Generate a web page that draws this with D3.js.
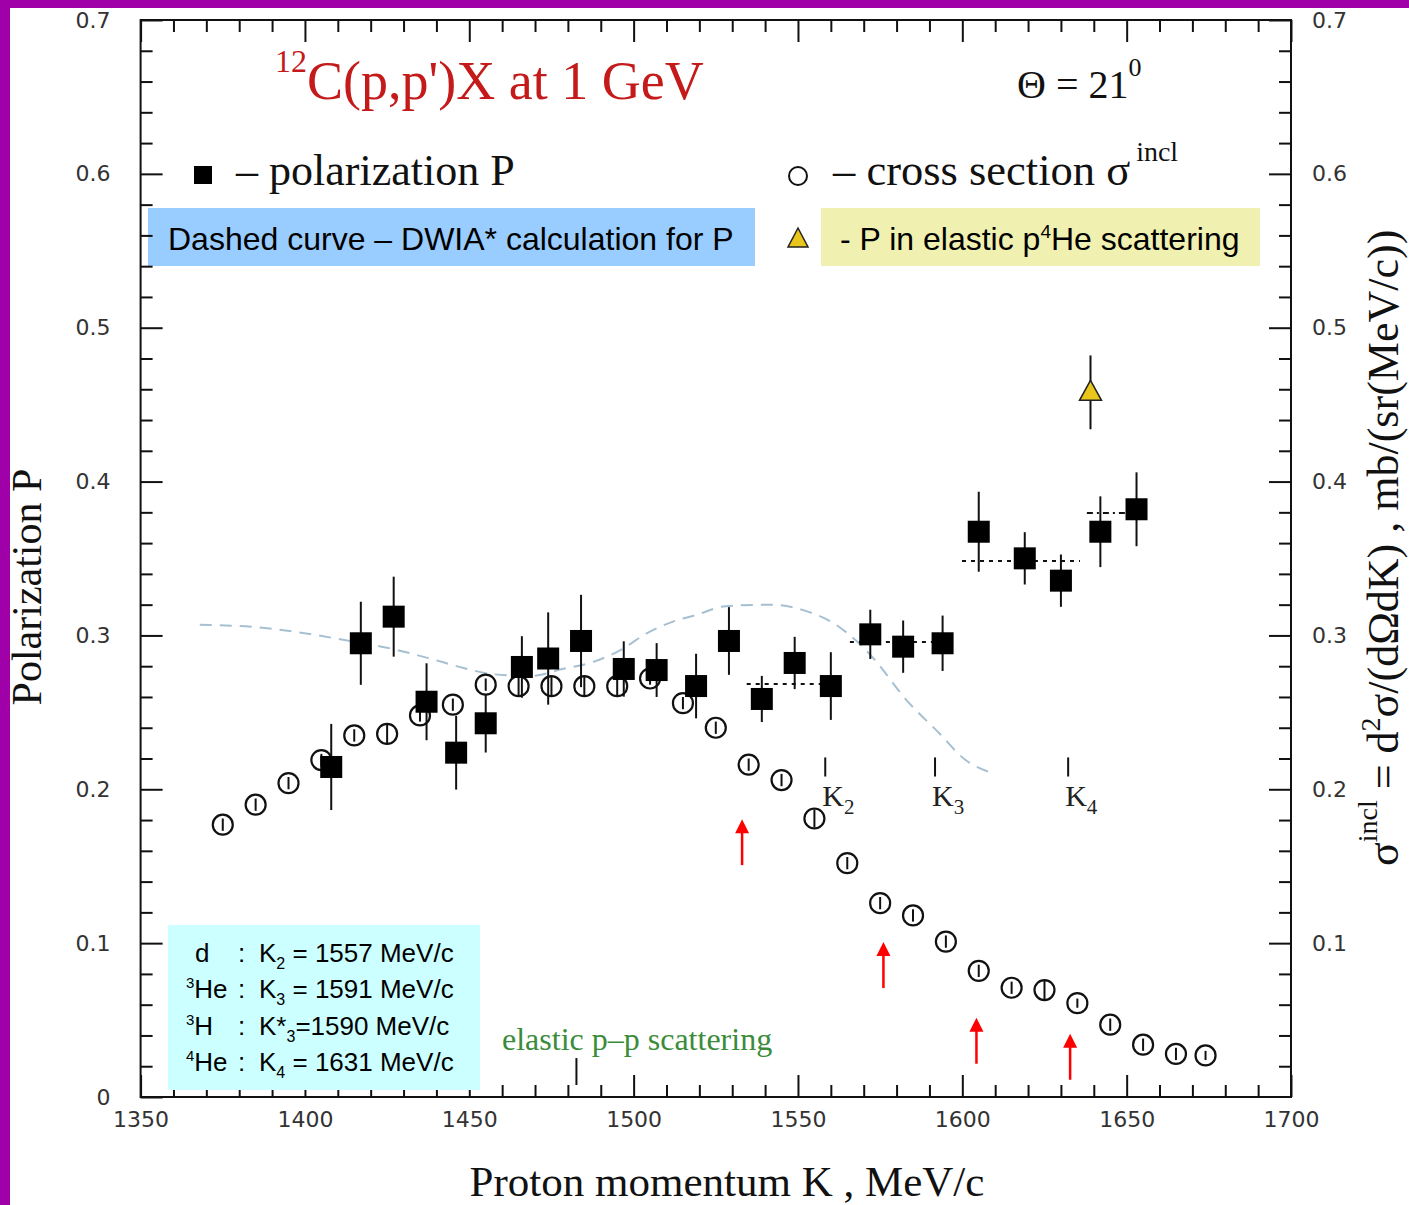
<!DOCTYPE html>
<html>
<head>
<meta charset="utf-8">
<script src="https://cdn.jsdelivr.net/npm/d3@7"></script>
<style>
  html, body { margin: 0; padding: 0; background: #fff; }
  svg { display: block; }
</style>
</head>
<body>
<svg id="chart" width="1409" height="1205"></svg>
<script>
// polarization P (filled squares), K in MeV/c
const polK   = [1408, 1417, 1427, 1437, 1446, 1455, 1466, 1474, 1484, 1497, 1507, 1519, 1529, 1539, 1549, 1560, 1572, 1582, 1594, 1605, 1619, 1630, 1642, 1653];
const polP   = [0.2145, 0.2949, 0.3122, 0.2569, 0.2238, 0.2429, 0.2795, 0.2850, 0.2964, 0.2782, 0.2775, 0.2671, 0.2964, 0.2587, 0.2821, 0.2671, 0.3007, 0.2927, 0.2949, 0.3674, 0.3501, 0.3356, 0.3674, 0.3820];
const polErr = [0.028, 0.027, 0.026, 0.025, 0.024, 0.019, 0.020, 0.030, 0.030, 0.018, 0.0175, 0.021, 0.022, 0.015, 0.017, 0.022, 0.016, 0.017, 0.018, 0.026, 0.017, 0.017, 0.023, 0.024];

// inclusive cross section (open circles), right axis
const xsK   = [1375, 1385, 1395, 1405, 1415, 1425, 1435, 1445, 1455, 1465, 1475, 1485, 1495, 1505, 1515, 1525, 1535, 1545, 1555, 1565, 1575, 1585, 1595, 1605, 1615, 1625, 1635, 1645, 1655, 1665, 1674];
const xsVal = [0.177, 0.190, 0.204, 0.219, 0.235, 0.236, 0.248, 0.255, 0.268, 0.267, 0.267, 0.267, 0.267, 0.272, 0.256, 0.240, 0.216, 0.206, 0.181, 0.152, 0.126, 0.118, 0.101, 0.082, 0.071, 0.0695, 0.061, 0.047, 0.034, 0.028, 0.027];
const xsErr = [0.004, 0.004, 0.004, 0.004, 0.004, 0.006, 0.004, 0.004, 0.004, 0.006, 0.006, 0.006, 0.006, 0.004, 0.004, 0.004, 0.004, 0.004, 0.006, 0.004, 0.004, 0.004, 0.004, 0.004, 0.004, 0.006, 0.003, 0.004, 0.004, 0.004, 0.003];

// p-4He elastic point (triangle)
const heK = [1639];
const heP = [0.458];
const heErr = [0.024];

// DWIA curve (dashed)
const dwiaK = [1368, 1387, 1404, 1412, 1425, 1438, 1448, 1455, 1462, 1469, 1478, 1488, 1496, 1504, 1512, 1519, 1528, 1542, 1553, 1560, 1568, 1573, 1583, 1593, 1601, 1608];
const dwiaP = [0.307, 0.305, 0.300, 0.297, 0.292, 0.285, 0.279, 0.2755, 0.274, 0.2737, 0.278, 0.283, 0.2905, 0.3014, 0.309, 0.3133, 0.319, 0.320, 0.3155, 0.309, 0.296, 0.285, 0.258, 0.2364, 0.219, 0.2114];

// averaged levels (dotted segments): from, to, level
const avgFrom  = [1534.4, 1565.8, 1599.9, 1637.9];
const avgTo    = [1563.3, 1598.4, 1635.8, 1649.5];
const avgLevel = [0.2684, 0.2957, 0.3484, 0.3796];

// threshold markers K2, K3, K4
const kMarkK = [1558.3, 1591.7, 1632.2];
const kMarkSub = ['2', '3', '4'];

// red arrows
const arrowK   = [1533, 1576, 1604.3, 1632.8];
const arrowTip = [0.1806, 0.1007, 0.0515, 0.0411];

// elastic p-p marker
const ppK = 1482.6;

// ticks
const xMajor = d3.range(1350, 1701, 50);
const xMinor = d3.range(1360, 1700, 10).filter(v => v % 50 !== 0);
const yMajor = [0, 0.1, 0.2, 0.3, 0.4, 0.5, 0.6, 0.7];
const yLeftLabels = ['0', '0.1', '0.2', '0.3', '0.4', '0.5', '0.6', '0.7'];
const yMinor = d3.range(0.02, 0.7, 0.02).filter(v => Math.abs(v * 10 - Math.round(v * 10)) > 0.01);

const svg = d3.select('#chart');
const x = d3.scaleLinear().domain([1350, 1700]).range([140.6, 1291]);
const y = d3.scaleLinear().domain([0, 0.7]).range([1097, 20]);

// purple frame of the slide
svg.append('rect').attr('x', 0).attr('y', 0).attr('width', 1409).attr('height', 8).attr('fill', '#a000a8');
svg.append('rect').attr('x', 0).attr('y', 0).attr('width', 10).attr('height', 1205).attr('fill', '#a000a8');

// coloured note boxes (behind axes)
svg.append('rect').attr('x', 148).attr('y', 208).attr('width', 607).attr('height', 58).attr('fill', '#99ccff');
svg.append('rect').attr('x', 821).attr('y', 208).attr('width', 439).attr('height', 58).attr('fill', '#f0f0b0');

function styleAxis(g) {
  g.select('.domain').remove();
  g.selectAll('line').attr('stroke', '#111').attr('stroke-width', 2);
  g.selectAll('text').attr('font-family', 'DejaVu Sans').attr('font-size', 22).attr('fill', '#333');
}

// bottom
svg.append('g').attr('transform', `translate(0,${y(0)})`)
  .call(d3.axisBottom(x).tickValues(xMajor).tickSize(-22).tickPadding(14).tickFormat(d3.format('d')))
  .call(styleAxis);
svg.append('g').attr('transform', `translate(0,${y(0)})`)
  .call(d3.axisBottom(x).tickValues(xMinor).tickSize(-12).tickFormat(''))
  .call(styleAxis);
// top
svg.append('g').attr('transform', `translate(0,${y(0.7)})`)
  .call(d3.axisTop(x).tickValues(xMajor).tickSize(-22).tickFormat(''))
  .call(styleAxis);
svg.append('g').attr('transform', `translate(0,${y(0.7)})`)
  .call(d3.axisTop(x).tickValues(xMinor).tickSize(-12).tickFormat(''))
  .call(styleAxis);
// left
svg.append('g').attr('transform', `translate(${x(1350)},0)`)
  .call(d3.axisLeft(y).tickValues(yMajor).tickSize(-22).tickPadding(30).tickFormat((d, i) => yLeftLabels[i]))
  .call(styleAxis);
svg.append('g').attr('transform', `translate(${x(1350)},0)`)
  .call(d3.axisLeft(y).tickValues(yMinor).tickSize(-12).tickFormat(''))
  .call(styleAxis);
// right
svg.append('g').attr('transform', `translate(${x(1700)},0)`)
  .call(d3.axisRight(y).tickValues(yMajor.slice(1)).tickSize(-22).tickPadding(21).tickFormat((d, i) => yLeftLabels[i + 1]))
  .call(styleAxis);
svg.append('g').attr('transform', `translate(${x(1700)},0)`)
  .call(d3.axisRight(y).tickValues(yMinor).tickSize(-12).tickFormat(''))
  .call(styleAxis);

// plot frame
svg.append('rect')
  .attr('x', x(1350)).attr('y', y(0.7))
  .attr('width', x(1700) - x(1350)).attr('height', y(0) - y(0.7))
  .attr('fill', 'none').attr('stroke', '#111').attr('stroke-width', 2);

// cyan box sits over the bottom ticks
svg.append('rect').attr('x', 168).attr('y', 925).attr('width', 312).attr('height', 165).attr('fill', '#ccffff');

// DWIA dashed curve
const dwia = dwiaK.map((k, i) => [k, dwiaP[i]]);
svg.append('path')
  .datum(dwia)
  .attr('fill', 'none')
  .attr('stroke', '#a6c0d2')
  .attr('stroke-width', 2)
  .attr('stroke-dasharray', '12,8')
  .attr('d', d3.line().x(d => x(d[0])).y(d => y(d[1])).curve(d3.curveMonotoneX));

// dotted average levels
avgLevel.forEach((v, i) => {
  svg.append('line')
    .attr('x1', x(avgFrom[i])).attr('x2', x(avgTo[i]))
    .attr('y1', y(v)).attr('y2', y(v))
    .attr('stroke', '#111').attr('stroke-width', 2)
    .attr('stroke-dasharray', i === 3 ? '6,4,2,4' : '4,5');
});

// cross section circles
const xs = xsK.map((k, i) => ({ k: k, v: xsVal[i], e: xsErr[i] }));
svg.selectAll('.xs')
  .data(xs)
  .enter()
  .append('circle')
  .attr('class', 'xs')
  .attr('cx', d => x(d.k))
  .attr('cy', d => y(d.v))
  .attr('r', 10)
  .attr('fill', '#fff')
  .attr('stroke', '#111')
  .attr('stroke-width', 2.2);
svg.selectAll('.xsErr')
  .data(xs)
  .enter()
  .append('line')
  .attr('class', 'xsErr')
  .attr('x1', d => x(d.k)).attr('x2', d => x(d.k))
  .attr('y1', d => y(d.v + d.e)).attr('y2', d => y(d.v - d.e))
  .attr('stroke', '#111').attr('stroke-width', 2);

// polarization squares with error bars
const pol = polK.map((k, i) => ({ k: k, p: polP[i], e: polErr[i] }));
svg.selectAll('.polErr')
  .data(pol)
  .enter()
  .append('line')
  .attr('class', 'polErr')
  .attr('x1', d => x(d.k)).attr('x2', d => x(d.k))
  .attr('y1', d => y(d.p + d.e)).attr('y2', d => y(d.p - d.e))
  .attr('stroke', '#111').attr('stroke-width', 2);
svg.selectAll('.pol')
  .data(pol)
  .enter()
  .append('rect')
  .attr('class', 'pol')
  .attr('x', d => x(d.k) - 11)
  .attr('y', d => y(d.p) - 11)
  .attr('width', 22)
  .attr('height', 22)
  .attr('fill', '#000');

// p-4He triangle
heK.forEach((k, i) => {
  const cx = x(k), cy = y(heP[i]);
  svg.append('line')
    .attr('x1', cx).attr('x2', cx)
    .attr('y1', y(heP[i] + heErr[i])).attr('y2', y(heP[i] - heErr[i]))
    .attr('stroke', '#111').attr('stroke-width', 2);
  svg.append('path')
    .attr('d', `M${cx},${cy - 12}L${cx + 11},${cy + 8}L${cx - 11},${cy + 8}Z`)
    .attr('fill', '#e8c61c').attr('stroke', '#222').attr('stroke-width', 1.5);
});

// K markers
kMarkK.forEach((k, i) => {
  svg.append('line')
    .attr('x1', x(k)).attr('x2', x(k))
    .attr('y1', y(0.2207)).attr('y2', y(0.2083))
    .attr('stroke', '#111').attr('stroke-width', 2);
  const t = svg.append('text')
    .attr('x', x(k) - 3).attr('y', 806)
    .attr('font-family', 'Liberation Serif').attr('font-size', 30).attr('fill', '#222');
  t.append('tspan').text('K');
  t.append('tspan').attr('dy', 8).attr('font-size', 21).text(kMarkSub[i]);
});

// red arrows
arrowK.forEach((k, i) => {
  const ax = x(k), ty = y(arrowTip[i]);
  svg.append('line')
    .attr('x1', ax).attr('x2', ax)
    .attr('y1', ty + 12).attr('y2', ty + 46)
    .attr('stroke', '#ff0000').attr('stroke-width', 2.5);
  svg.append('path')
    .attr('d', `M${ax},${ty}L${ax + 7},${ty + 14}L${ax - 7},${ty + 14}Z`)
    .attr('fill', '#ff0000');
});

// elastic p-p marker
svg.append('line')
  .attr('x1', x(ppK)).attr('x2', x(ppK))
  .attr('y1', y(0.0253)).attr('y2', y(0.0078))
  .attr('stroke', '#111').attr('stroke-width', 2);
svg.append('text')
  .attr('x', 502).attr('y', 1050)
  .attr('font-family', 'Liberation Serif').attr('font-size', 32)
  .attr('fill', '#3a8c3a')
  .text('elastic p\u2013p scattering');

// title
const title = svg.append('text')
  .attr('x', 275).attr('y', 99)
  .attr('font-family', 'Liberation Serif').attr('fill', '#c41a1a');
title.append('tspan').attr('font-size', 32).attr('dy', -27).text('12');
title.append('tspan').attr('font-size', 54).attr('dy', 27).text("C(p,p')X at 1 GeV");

const theta = svg.append('text')
  .attr('x', 1017).attr('y', 98)
  .attr('font-family', 'Liberation Serif').attr('font-size', 40).attr('fill', '#111');
theta.append('tspan').text('\u0398 = 21');
theta.append('tspan').attr('dy', -22).attr('font-size', 26).text('0');

// legend row
svg.append('rect').attr('x', 194).attr('y', 166).attr('width', 18).attr('height', 18).attr('fill', '#000');
svg.append('text').attr('x', 236).attr('y', 185)
  .attr('font-family', 'Liberation Serif').attr('font-size', 44).attr('fill', '#111')
  .text('\u2013 polarization P');
svg.append('circle').attr('cx', 798).attr('cy', 176).attr('r', 9)
  .attr('fill', '#fff').attr('stroke', '#111').attr('stroke-width', 2);
const csText = svg.append('text').attr('x', 833).attr('y', 185)
  .attr('font-family', 'Liberation Serif').attr('font-size', 44.5).attr('fill', '#111');
csText.append('tspan').text('\u2013 cross section \u03c3');
csText.append('tspan').attr('dx', 6).attr('dy', -24).attr('font-size', 28).text('incl');

svg.append('text').attr('x', 168).attr('y', 250)
  .attr('font-family', 'Liberation Sans').attr('font-size', 32).attr('fill', '#000')
  .text('Dashed curve \u2013 DWIA* calculation for P');
svg.append('path')
  .attr('d', 'M798,228L808,247L788,247Z')
  .attr('fill', '#e8c61c').attr('stroke', '#222').attr('stroke-width', 1.5);
const heText = svg.append('text').attr('x', 840).attr('y', 250)
  .attr('font-family', 'Liberation Sans').attr('font-size', 32).attr('fill', '#000');
heText.append('tspan').text('- P in elastic p');
heText.append('tspan').attr('font-size', 19).attr('dy', -12).text('4');
heText.append('tspan').attr('dy', 12).text('He scattering');

// cyan box text
const boxLines = [
  { pre: '', nuc: 'd', sub: '2', star: '', val: ' = 1557 MeV/c' },
  { pre: '3', nuc: 'He', sub: '3', star: '', val: ' = 1591 MeV/c' },
  { pre: '3', nuc: 'H', sub: '3', star: '*', val: '=1590 MeV/c' },
  { pre: '4', nuc: 'He', sub: '4', star: '', val: ' = 1631 MeV/c' }
];
const boxBase = [962, 998, 1035, 1071];
boxLines.forEach((l, i) => {
  const g = svg.append('g')
    .attr('font-family', 'Liberation Sans').attr('font-size', 26).attr('fill', '#000');
  const nt = g.append('text').attr('x', l.pre ? 186 : 195).attr('y', boxBase[i]);
  if (l.pre) nt.append('tspan').attr('font-size', 15).attr('dy', -10).text(l.pre);
  nt.append('tspan').attr('dy', l.pre ? 10 : 0).text(l.nuc);
  g.append('text').attr('x', 238).attr('y', boxBase[i]).text(':');
  const kt = g.append('text').attr('x', 259).attr('y', boxBase[i]);
  kt.append('tspan').text('K' + l.star);
  kt.append('tspan').attr('font-size', 16).attr('dy', 7).text(l.sub);
  kt.append('tspan').attr('dy', -7).text(l.val);
});

// axis titles
svg.append('text')
  .attr('x', 727).attr('y', 1196)
  .attr('text-anchor', 'middle')
  .attr('font-family', 'Liberation Serif').attr('font-size', 43).attr('fill', '#111')
  .text('Proton momentum K , MeV/c');
svg.append('text')
  .attr('transform', 'translate(41,587) rotate(-90)')
  .attr('text-anchor', 'middle')
  .attr('font-family', 'Liberation Serif').attr('font-size', 42).attr('fill', '#111')
  .text('Polarization P');
const rt = svg.append('text')
  .attr('transform', 'translate(1398,866) rotate(-90)')
  .attr('font-family', 'Liberation Serif').attr('font-size', 44).attr('fill', '#111');
rt.append('tspan').text('\u03c3');
rt.append('tspan').attr('dy', -21).attr('font-size', 28).text('incl');
rt.append('tspan').attr('dy', 21).text(' = d');
rt.append('tspan').attr('dy', -18).attr('font-size', 28).text('2');
rt.append('tspan').attr('dy', 18).text('\u03c3/(d\u03a9dK) , mb/(sr(MeV/c))');
</script>
</body>
</html>
